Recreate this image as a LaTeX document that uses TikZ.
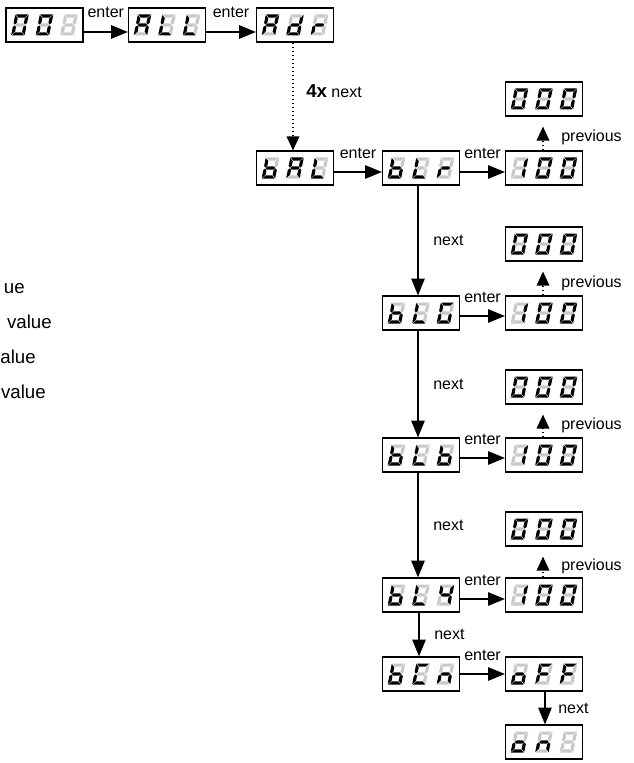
\documentclass[tikz,border=0pt]{standalone}
\usepackage{fontspec}
\setmainfont{Liberation Sans}
\usetikzlibrary{arrows.meta}
\definecolor{sK}{HTML}{000000}
\definecolor{sG}{HTML}{C8C8C8}
\def\sgW{13.5}\def\sgH{21}\def\sgM{10.5}\def\sgT{3.2}\def\sgD{0.45}
\newcommand\sdig[8]{%
  \begin{scope}[shift={#1},x=0.75pt,y=0.75pt,xslant=0.2]
    \fill[s#2] (\sgD,\sgH) -- ({\sgW-\sgD},\sgH) -- ({\sgW-\sgT-\sgD},{\sgH-\sgT}) -- ({\sgT+\sgD},{\sgH-\sgT}) -- cycle;
    \fill[s#3] (\sgW,{\sgH-\sgD}) -- ({\sgW-\sgT},{\sgH-\sgT-\sgD}) -- ({\sgW-\sgT},{\sgM+\sgT/2+\sgD}) -- ({\sgW-\sgT/2},{\sgM+\sgD}) -- (\sgW,{\sgM+\sgT/2+\sgD}) -- cycle;
    \fill[s#4] (\sgW,\sgD) -- ({\sgW-\sgT},{\sgT+\sgD}) -- ({\sgW-\sgT},{\sgM-\sgT/2-\sgD}) -- ({\sgW-\sgT/2},{\sgM-\sgD}) -- (\sgW,{\sgM-\sgT/2-\sgD}) -- cycle;
    \fill[s#5] (\sgD,0) -- ({\sgW-\sgD},0) -- ({\sgW-\sgT-\sgD},\sgT) -- ({\sgT+\sgD},\sgT) -- cycle;
    \fill[s#6] (0,\sgD) -- (\sgT,{\sgT+\sgD}) -- (\sgT,{\sgM-\sgT/2-\sgD}) -- ({\sgT/2},{\sgM-\sgD}) -- (0,{\sgM-\sgT/2-\sgD}) -- cycle;
    \fill[s#7] (0,{\sgH-\sgD}) -- (\sgT,{\sgH-\sgT-\sgD}) -- (\sgT,{\sgM+\sgT/2+\sgD}) -- ({\sgT/2},{\sgM+\sgD}) -- (0,{\sgM+\sgT/2+\sgD}) -- cycle;
    \fill[s#8] ({\sgT/2+\sgD},\sgM) -- ({\sgT+\sgD},{\sgM+\sgT/2}) -- ({\sgW-\sgT-\sgD},{\sgM+\sgT/2}) -- ({\sgW-\sgT/2-\sgD},\sgM) -- ({\sgW-\sgT-\sgD},{\sgM-\sgT/2}) -- ({\sgT+\sgD},{\sgM-\sgT/2}) -- cycle;
  \end{scope}}
\def\gZ{KKKKKKG}
\def\gI{GKKGGGG}
\def\gA{KKKGKKK}
\def\gL{GGGKKKG}
\def\gd{GKKKKGK}
\def\gr{GGGGKGK}
\def\gb{GGKKKKK}
\def\gG{KGKKKKG}
\def\gY{GKKGGKK}
\def\gC{KGGKKKG}
\def\gn{GGKGKGK}
\def\go{GGKKKGK}
\def\gF{KGGGKKK}
\def\gX{GGGGGGG}
\newcommand\dispdigits[4]{%
  \begin{scope}[shift={(#1.center)}]
    \edef\mytmpd{\noexpand\sdig{(-33.4,10.5)}\csname g#2\endcsname}\mytmpd
    \edef\mytmpd{\noexpand\sdig{(-8.9,10.5)}\csname g#3\endcsname}\mytmpd
    \edef\mytmpd{\noexpand\sdig{(15.6,10.5)}\csname g#4\endcsname}\mytmpd
  \end{scope}}
\begin{document}
\begin{tikzpicture}[x=0.75pt,y=-0.75pt,
  disp/.style={draw, line width=0.9pt, minimum width=57.75pt, minimum height=25.5pt, inner sep=0pt},
  arr/.style={-{Triangle[length=12.5pt,width=10pt]}, line width=1pt},
  dotarr/.style={-{Triangle[length=10.5pt,width=9.5pt]}, line width=1pt, dash pattern=on 0.8pt off 2.2pt},
  lab/.style={font=\fontsize{12pt}{14pt}\selectfont, inner sep=0pt},
  enterlab/.style={lab, midway, anchor=base, yshift=10.5pt},
  nextlab/.style={lab, midway, anchor=west, xshift=11pt},
  lt/.style={font=\fontsize{14pt}{17pt}\selectfont, inner sep=0pt, anchor=base east}]
\useasboundingbox (0,0) rectangle (633,763);
\fill[white] (0,0) rectangle (633,763);
% displays
\node[disp] (n001) at (44.5,25) {};
\node[disp] (nALL) at (167,25) {};
\node[disp] (nAdr) at (295,25) {};
\node[disp] (nBAL) at (295,168) {};
\node[disp] (nbLr) at (421,168) {};
\node[disp] (nHa) at (544,168) {};
\node[disp] (nZa) at (544,99) {};
\node[disp] (nbLG) at (421,313) {};
\node[disp] (nHb) at (544,313) {};
\node[disp] (nZb) at (544,244) {};
\node[disp] (nbLb) at (421,455) {};
\node[disp] (nHc) at (544,455) {};
\node[disp] (nZc) at (544,387) {};
\node[disp] (nbLY) at (421,595) {};
\node[disp] (nHd) at (544,595) {};
\node[disp] (nZd) at (544,529) {};
\node[disp] (nbCn) at (421,674) {};
\node[disp] (noFF) at (544,674) {};
\node[disp] (non) at (544,742) {};
\dispdigits{n001}{Z}{Z}{X}
\dispdigits{nALL}{A}{L}{L}
\dispdigits{nAdr}{A}{d}{r}
\dispdigits{nBAL}{b}{A}{L}
\dispdigits{nbLr}{b}{L}{r}
\dispdigits{nHa}{I}{Z}{Z}
\dispdigits{nZa}{Z}{Z}{Z}
\dispdigits{nbLG}{b}{L}{G}
\dispdigits{nHb}{I}{Z}{Z}
\dispdigits{nZb}{Z}{Z}{Z}
\dispdigits{nbLb}{b}{L}{b}
\dispdigits{nHc}{I}{Z}{Z}
\dispdigits{nZc}{Z}{Z}{Z}
\dispdigits{nbLY}{b}{L}{Y}
\dispdigits{nHd}{I}{Z}{Z}
\dispdigits{nZd}{Z}{Z}{Z}
\dispdigits{nbCn}{b}{C}{n}
\dispdigits{noFF}{o}{F}{F}
\dispdigits{non}{o}{n}{X}
% horizontal arrows
\draw[arr] ([yshift=-5.25pt]n001.east) -- node[enterlab]{enter} ([yshift=-5.25pt]nALL.west);
\draw[arr] ([yshift=-5.25pt]nALL.east) -- node[enterlab]{enter} ([yshift=-5.25pt]nAdr.west);
\draw[arr] ([yshift=-3pt]nBAL.east) -- node[enterlab]{enter} ([yshift=-3pt]nbLr.west);
\draw[arr] ([yshift=-3pt]nbLr.east) -- node[enterlab]{enter} ([yshift=-3pt]nHa.west);
\draw[arr] ([yshift=-2.25pt]nbLG.east) -- node[enterlab]{enter} ([yshift=-2.25pt]nHb.west);
\draw[arr] ([yshift=-2.25pt]nbLb.east) -- node[enterlab]{enter} ([yshift=-2.25pt]nHc.west);
\draw[arr] ([yshift=-3pt]nbLY.east) -- node[enterlab]{enter} ([yshift=-3pt]nHd.west);
\draw[arr] ([yshift=0pt]nbCn.east) -- node[enterlab]{enter} ([yshift=0pt]noFF.west);
% vertical arrows
\draw[dotarr] ([xshift=-1.5pt]nAdr.south) -- ([xshift=-1.5pt]nBAL.north);
\node[lab, anchor=base west] (l4x) at (306,98) {{\fontsize{14pt}{16pt}\selectfont\bfseries 4x} next};
\draw[dotarr, shorten >=7.5pt] ([xshift=-0.75pt]nHa.north) -- ([xshift=-0.75pt]nZa.south);
\draw[dotarr, shorten >=7.5pt] ([xshift=-0.75pt]nHb.north) -- ([xshift=-0.75pt]nZb.south);
\draw[dotarr, shorten >=7.5pt] ([xshift=-0.75pt]nHc.north) -- ([xshift=-0.75pt]nZc.south);
\draw[dotarr, shorten >=7.5pt] ([xshift=-0.75pt]nHd.north) -- ([xshift=-0.75pt]nZd.south);
\node[lab, anchor=base west] (lp1) at (561,142) {previous};
\node[lab, anchor=base west] (lp2) at (561,287) {previous};
\node[lab, anchor=base west] (lp3) at (561,429) {previous};
\node[lab, anchor=base west] (lp4) at (561,570) {previous};
\draw[arr] ([xshift=-2.25pt]nbLr.south) -- node[nextlab]{next} ([xshift=-2.25pt]nbLG.north);
\draw[arr] ([xshift=-2.25pt]nbLG.south) -- node[nextlab]{next} ([xshift=-2.25pt]nbLb.north);
\draw[arr] ([xshift=-2.25pt]nbLb.south) -- node[nextlab]{next} ([xshift=-2.25pt]nbLY.north);
\draw[arr] ([xshift=-1.5pt]nbLY.south) -- node[nextlab]{next} ([xshift=-1.5pt]nbCn.north);
\draw[arr] ([xshift=0.75pt]noFF.south) -- node[nextlab, xshift=-1.5pt]{next} ([xshift=0.75pt]non.north);
% left texts
\node[lt] (t1) at (25,293) {ue};
\node[lt] (t2) at (52,328) {value};
\node[lt] (t3) at (36,363) {alue};
\node[lt] (t4) at (46,398) {value};
\end{tikzpicture}
\end{document}
